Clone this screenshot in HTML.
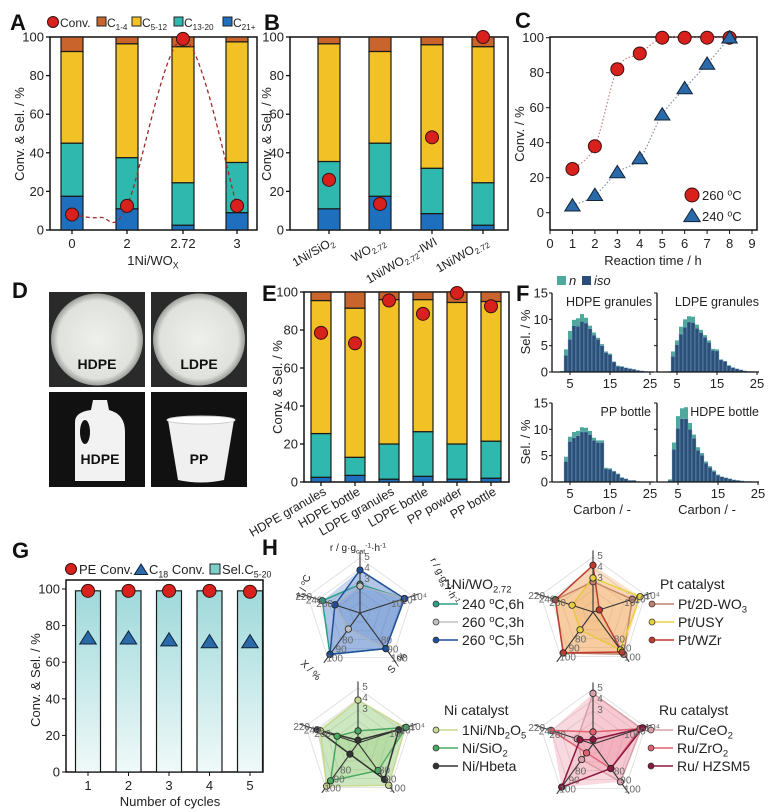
<!DOCTYPE html>
<html><head><meta charset="utf-8"><style>
html,body{margin:0;padding:0;background:#fff;}
svg{display:block;font-family:"Liberation Sans",Arial,sans-serif;}
</style></head><body>
<svg id="fig" width="778" height="812" viewBox="0 0 778 812" xmlns="http://www.w3.org/2000/svg">
<defs>
<linearGradient id="gG" x1="0" y1="0" x2="0" y2="1"><stop offset="0" stop-color="#9fd9da"/><stop offset="1" stop-color="#f0f9f9"/></linearGradient>
<radialGradient id="gran" cx="0.5" cy="0.5" r="0.5"><stop offset="0" stop-color="#eef0ec"/><stop offset="0.85" stop-color="#dfe2dc"/><stop offset="1" stop-color="#9a9c98"/></radialGradient>
</defs>
<g id="root"></g>
</svg>
<script>
// ---------- DATA ----------
const aCats = ["0","2","2.72","3"];
const aC21 = [17.5,11,2.5,9];
const aC13 = [27.5,26.5,22,26];
const aC5 = [47.5,59,70.5,62.5];
const aC1 = [7.5,3.5,5,2.5];
const aConv = [8,12.5,99,12.5];

const bCats = ["1Ni/SiO2","WO2.72","1Ni/WO2.72-IWI","1Ni/WO2.72"];
const bC21 = [11,17.5,8.5,2.5];
const bC13 = [24.5,27.5,23.5,22];
const bC5 = [61,47.5,64,70.5];
const bC1 = [3.5,7.5,4,5];
const bConv = [26,13.5,48,100];

const cTime = [1,2,3,4,5,6,7,8];
const c260 = [25,38,82,91,100,100,100,100];
const c240 = [4,10,23,31,56,71,85,100];
const cXTicks = [0,1,2,3,4,5,6,7,8,9];
const cYTicks = [0,20,40,60,80,100];

const eCats = ["HDPE granules","HDPE bottle","LDPE granules","LDPE bottle","PP powder","PP bottle"];
const eC21 = [2.5,3.5,1.5,3,1.5,2];
const eC13 = [23,9.5,18.5,23.5,18.5,19.5];
const eC5 = [70,78.5,76,69.5,74.5,73.5];
const eC1 = [4.5,8.5,4,4,5.5,5];
const eConv = [78.5,73,95.5,88.5,99.5,92.5];

const fCarbon = [3,4,5,6,7,8,9,10,11,12,13,14,15,16,17,18,19,20,21,22,23,24,25];
const fHdpeGranN = [0.2,4.3,7.8,9.9,10.2,11,10.3,8.8,7.5,6.5,5.3,3.9,3.5,2,1.2,1.1,0.8,0.7,0.5,0.3,0.2,0.1,0];
const fHdpeGranIso = [0.1,3.2,6.2,8.8,8.7,9.6,9.3,8.2,7,6.2,5,3.7,3.3,1.9,1.1,1,0.8,0.6,0.5,0.3,0.2,0.1,0];
const fLdpeGranN = [0.1,3.9,6,8.6,10,10.6,10.5,9,8,7,6,4.4,4.3,2.4,2.1,1.3,0.9,0.6,0.4,0.2,0.1,0.1,0];
const fLdpeGranIso = [0.1,3,5.2,7.2,8.5,9.5,9.4,8.3,7.5,6.6,5.6,4.1,4,2.3,2,1.2,0.8,0.6,0.4,0.2,0.1,0.1,0];
const fPpBottleN = [0.1,4.8,8.6,9.5,9.7,10.4,10.3,9.7,8.4,7.9,7.9,2.7,2.6,2.1,1.6,0.9,0.6,0.3,0.3,0.1,0,0,0];
const fPpBottleIso = [0.1,3.9,7.7,8.4,8.8,9.5,9.5,9,7.9,7.5,7.5,2.5,2.4,2,1.5,0.8,0.6,0.3,0.3,0.1,0,0,0];
const fHdpeBotN = [0.5,7.5,12.5,14,14.2,11.2,9,6.6,5.5,3.9,3,2.2,1.4,1,0.8,0.6,0.4,0.3,0.2,0.1,0.1,0,0];
const fHdpeBotIso = [0.3,6.2,10.2,12,12,10,8.3,6,5.1,3.6,2.8,2,1.3,1,0.8,0.6,0.4,0.3,0.2,0.1,0.1,0,0];

const gCycles = ["1","2","3","4","5"];
const gSel = [99,99,99,99,99];
const gPE = [99,99,99,99,98.5];
const gC18 = [73,73,72,71,71];

const hTL1 = [0.52,0.85,0.8,0.93,0.72];
const hTL2 = [0.49,0.85,0.8,0.36,0.48];
const hTL3 = [0.78,0.85,0.8,0.93,0.48];
const hPt1 = [0.55,0.75,0.95,0.92,0.72];
const hPt2 = [0.62,0.9,0.85,0.4,0.4];
const hPt3 = [0.85,0.12,0.9,0.92,0.72];
const hNi1 = [0.78,0.9,0.95,0.97,0.72];
const hNi2 = [0.22,0.92,0.62,0.85,0.4];
const hNi3 = [0.05,0.78,0.82,0.25,0.78];
const hRu1 = [0.92,0.92,0.85,0.35,0.3];
const hRu2 = [0.22,0.9,0.55,0.2,0.8];
const hRu3 = [0.08,0.95,0.55,0.97,0.25];

// ---------- HELPERS ----------
const NS="http://www.w3.org/2000/svg";
const root=document.getElementById('root');
function mk(tag,at,parent){const e=document.createElementNS(NS,tag);for(const k in at)e.setAttribute(k,at[k]);(parent||root).appendChild(e);return e;}
function txt(x,y,s,size,opts,parent){opts=opts||{};const t=mk('text',{x:x,y:y,'font-size':size,fill:opts.fill||'#222','text-anchor':opts.anchor||'start','font-weight':opts.bold?'bold':'normal'},parent);
  if(opts.rot!==undefined)t.setAttribute('transform','rotate('+opts.rot+' '+x+' '+y+')');
  if(opts.italic)t.setAttribute('font-style','italic');
  const parts=s.split(/(_\{[^}]*\}|\^\{[^}]*\})/);
  parts.forEach(p=>{if(!p)return;const sp=document.createElementNS(NS,'tspan');
    if(p.startsWith('_{')){sp.textContent=p.slice(2,-1);sp.setAttribute('font-size',size*0.68);sp.setAttribute('dy',size*0.25);t.appendChild(sp);const r=document.createElementNS(NS,'tspan');r.setAttribute('dy',-size*0.25);r.textContent='\u200b';t.appendChild(r);}
    else if(p.startsWith('^{')){sp.textContent=p.slice(2,-1);sp.setAttribute('font-size',size*0.68);sp.setAttribute('dy',-size*0.35);t.appendChild(sp);const r=document.createElementNS(NS,'tspan');r.setAttribute('dy',size*0.35);r.textContent='\u200b';t.appendChild(r);}
    else{sp.textContent=p;t.appendChild(sp);}});
  return t;}
function circ(x,y,r,fill,parent){return mk('circle',{cx:x,cy:y,r:r,fill:fill,stroke:'#3a1010','stroke-width':1},parent);}
function tri(x,y,s,fill,parent){return mk('polygon',{points:(x)+','+(y-s)+' '+(x-s*1.1)+','+(y+s*0.75)+' '+(x+s*1.1)+','+(y+s*0.75),fill:fill,stroke:'#10243a','stroke-width':1},parent);}
function smooth(pts){let d='M'+pts[0][0]+','+pts[0][1];for(let i=0;i<pts.length-1;i++){const p0=pts[i-1]||pts[i],p1=pts[i],p2=pts[i+1],p3=pts[i+2]||p2;
  d+=' C'+(p1[0]+(p2[0]-p0[0])/6)+','+(p1[1]+(p2[1]-p0[1])/6)+' '+(p2[0]-(p3[0]-p1[0])/6)+','+(p2[1]-(p3[1]-p1[1])/6)+' '+p2[0]+','+p2[1];}return d;}
const COL={c1:'#c8642c',c5:'#f2c125',c13:'#2fb8ae',c21:'#1f6fbf',red:'#d8211c',blue:'#2a6aa8'};
function label(s,x,y){const t=txt(x,y,s,22,{bold:true,fill:'#111'});}

function stackPanel(name,x0,x1,y0,y100,centers,cats,c21,c13,c5,c1,conv,bw){
  const g=mk('g',{});
  const ys=v=>y0-(y0-y100)*v/100;
  mk('rect',{x:x0,y:y100,width:x1-x0,height:y0-y100,fill:'none',stroke:'#111','stroke-width':1.5},g);
  [0,20,40,60,80,100].forEach(v=>{mk('line',{x1:x0-4,x2:x0,y1:ys(v),y2:ys(v),stroke:'#111','stroke-width':1.3},g);const t=txt(x0-6,ys(v)+4.5,String(v),13,{anchor:'end'},g);});
  cats.forEach((c,i)=>{const cx=centers(i);let acc=0;
    [[c21,COL.c21],[c13,COL.c13],[c5,COL.c5],[c1,COL.c1]].forEach(([arr,col])=>{const r=mk('rect',{x:cx-bw/2,y:ys(acc+arr[i]),width:bw,height:ys(acc)-ys(acc+arr[i]),fill:col,stroke:'#1a1a1a','stroke-width':1.2},g);acc+=arr[i];});
    mk('line',{x1:cx,x2:cx,y1:y0,y2:y0+4,stroke:'#111','stroke-width':1.3},g);
  });
  return {g:g,ys:ys};
}

// ---------- PANEL A ----------
label('A',10,30);
(function(){
  const x0=50,x1=257,y0=230,y100=37;const cen=[72,127,183,237];
  const p=stackPanel('panel-a-chart',x0,x1,y0,y100,i=>cen[i],aCats,aC21,aC13,aC5,aC1,aConv,22);
  aCats.forEach((c,i)=>{const t=txt(cen[i],248,c,13,{anchor:'middle'},p.g);});
  const xt=txt(153,265,'1Ni/WO_{X}',13,{anchor:'middle'},p.g);
  const yt=txt(24,134,'Conv. & Sel. / %',13,{anchor:'middle',rot:-90},p.g);
  const pts=aConv.map((v,i)=>[cen[i],p.ys(v)]);
  const cp=[pts[0],[100,p.ys(6.5)],pts[1],pts[2],pts[3]];
  const path=mk('path',{d:smooth(cp),fill:'none',stroke:'#a02a2a','stroke-width':1.3,'stroke-dasharray':'4,3'},p.g);
  
  pts.forEach(q=>{const c=circ(q[0],q[1],6.5,COL.red,p.g);});
  const lg=mk('g',{});
  circ(53,22,5.5,COL.red,lg);txt(60,27,'Conv.',12,{},lg);
  const items=[[COL.c1,97,'C_{1-4}'],[COL.c5,132,'C_{5-12}'],[COL.c13,174,'C_{13-20}'],[COL.c21,223,'C_{21+}']];
  items.forEach(it=>{mk('rect',{x:it[1],y:17,width:9,height:9,fill:it[0],stroke:'#222'},lg);txt(it[1]+10,27,it[2],12,{},lg);});
})();

// ---------- PANEL B ----------
label('B',264,30);
(function(){
  const x0=290,x1=508,y0=230,y100=37;const cen=[329,380,432,483];
  const p=stackPanel('panel-b-chart',x0,x1,y0,y100,i=>cen[i],bCats,bC21,bC13,bC5,bC1,bConv,22);
  const labs=['1Ni/SiO_{2}','WO_{2.72}','1Ni/WO_{2.72}-IWI','1Ni/WO_{2.72}'];
  labs.forEach((c,i)=>{const t=txt(cen[i]+6,244,c,12,{anchor:'end',rot:-30},p.g);});
  const yt=txt(271,134,'Conv. & Sel. / %',13,{anchor:'middle',rot:-90},p.g);
  bConv.forEach((v,i)=>{const c=circ(cen[i],p.ys(v),6.5,COL.red,p.g);});
})();

// ---------- PANEL C ----------
label('C',515,28);
(function(){
  const g=mk('g',{});
  const x0=550,x1=757,yb=230,ytop=37;
  const xs=v=>x0+(v-0)*(752-550)/9, ys=v=>212.7-(212.7-37.7)*v/100;
  mk('rect',{x:x0,y:ytop,width:x1-x0,height:yb-ytop,fill:'none',stroke:'#111','stroke-width':1.5},g);
  cYTicks.forEach(v=>{mk('line',{x1:x0-4,x2:x0,y1:ys(v),y2:ys(v),stroke:'#111'},g);const t=txt(x0-6,ys(v)+4.5,String(v),13,{anchor:'end'},g);});
  cXTicks.forEach(v=>{mk('line',{x1:xs(v),x2:xs(v),y1:yb,y2:yb+4,stroke:'#111'},g);const t=txt(xs(v),248,String(v),13,{anchor:'middle'},g);});
  const xt=txt(653,265,'Reaction time / h',13,{anchor:'middle'},g);
  const yt=txt(524,134,'Conv. / %',13,{anchor:'middle',rot:-90},g);
  const l1=mk('path',{d:smooth(cTime.map((t,i)=>[xs(t),ys(c260[i])])),fill:'none',stroke:'#d08080','stroke-width':1.2,'stroke-dasharray':'1.5,2'},g);
  const l2=mk('path',{d:smooth(cTime.map((t,i)=>[xs(t),ys(c240[i])])),fill:'none',stroke:'#8090a8','stroke-width':1.2,'stroke-dasharray':'1.5,2'},g);
  cTime.forEach((t,i)=>{const c=circ(xs(t),ys(c260[i]),6.5,COL.red,g);});
  cTime.forEach((t,i)=>{const c=tri(xs(t),ys(c240[i]),7,COL.blue,g);});
  const lg=mk('g',{},g);
  circ(692,195,7,COL.red,lg);txt(702,200,'260 ^{o}C',13,{},lg);
  tri(692,216,7.5,COL.blue,lg);txt(702,221,'240 ^{o}C',13,{},lg);
})();

// ---------- PANEL D ----------
label('D',12,298);
(function(){
  const g=mk('g',{});
  const boxes=[[49,292,'HDPE',0],[151,292,'LDPE',0],[49,392,'HDPE',1],[151,392,'PP',2]];
  boxes.forEach(b=>{const [x,y,s,k]=b;const w=96,h=95;
    mk('rect',{x:x,y:y,width:w,height:h,fill:k===0?'#2a2a2a':'#111'},g);
    if(k===0){mk('circle',{cx:x+w/2,cy:y+h/2,r:46,fill:'url(#gran)'},g);}
    if(k===1){mk('path',{d:'M'+(x+26)+','+(y+h-6)+' L'+(x+26)+','+(y+30)+' Q'+(x+26)+','+(y+20)+' '+(x+42)+','+(y+18)+' L'+(x+44)+','+(y+8)+' L'+(x+58)+','+(y+8)+' L'+(x+60)+','+(y+18)+' Q'+(x+76)+','+(y+22)+' '+(x+76)+','+(y+40)+' L'+(x+76)+','+(y+h-6)+' Z',fill:'#f2f2f2'},g);
      mk('ellipse',{cx:x+36,cy:y+40,rx:5,ry:12,fill:'#111'},g);}
    if(k===2){mk('path',{d:'M'+(x+17)+','+(y+28)+' L'+(x+83)+','+(y+28)+' L'+(x+73)+','+(y+88)+' Q'+(x+50)+','+(y+93)+' '+(x+27)+','+(y+88)+' Z',fill:'#f0f0f0'},g);
      mk('ellipse',{cx:x+50,cy:y+28,rx:34,ry:4,fill:'#fff',stroke:'#ccc'},g);}
    const t=txt(x+w/2+(k===1?3:0),y+(k===0?77:72),s,14,{anchor:'middle',bold:true,fill:'#111'},g);
  });
})();

// ---------- PANEL E ----------
label('E',262,301);
(function(){
  const x0=304,x1=509,y0=482,y100=292;const cen=i=>321+34*i;
  const p=stackPanel('panel-e-chart',x0,x1,y0,y100,cen,eCats,eC21,eC13,eC5,eC1,eConv,20);
  eCats.forEach((c,i)=>{const t=txt(cen(i)+6,494,c,12.5,{anchor:'end',rot:-30},p.g);});
  const yt=txt(282,387,'Conv. & Sel. / %',13,{anchor:'middle',rot:-90},p.g);
  eConv.forEach((v,i)=>{const c=circ(cen(i),p.ys(v),6.5,COL.red,p.g);});
})();

// ---------- PANEL F ----------
label('F',516,301);
(function(){
  const panels=[
    {n:fHdpeGranN,iso:fHdpeGranIso,ax:552,off:0,y0:372,t:'HDPE granules',left:true,tx:566,anc:'start'},
    {n:fLdpeGranN,iso:fLdpeGranIso,ax:657,off:107,y0:372,t:'LDPE granules',left:false,tx:759,anc:'end'},
    {n:fPpBottleN,iso:fPpBottleIso,ax:552,off:0,y0:482,t:'PP bottle',left:true,tx:651,anc:'end'},
    {n:fHdpeBotN,iso:fHdpeBotIso,ax:657,off:108,y0:482,t:'HDPE bottle',left:false,tx:759,anc:'end'}];
  panels.forEach((P,pi)=>{
    const g=mk('g',{});
    const xs=c=>570+P.off+(c-5)*4, ys=v=>P.y0-v*(79/15);
    fCarbon.forEach((c,i)=>{
      const r1=mk('rect',{x:xs(c)-2,y:ys(P.n[i]),width:4,height:P.y0-ys(P.n[i]),fill:'#4fa89c'},g);
      const r2=mk('rect',{x:xs(c)-2,y:ys(P.iso[i]),width:4,height:P.y0-ys(P.iso[i]),fill:'#2b4f78',stroke:'#8db4d0','stroke-width':0.4},g);
    });
    mk('line',{x1:P.ax,x2:P.ax+102,y1:P.y0,y2:P.y0,stroke:'#111','stroke-width':1.3},g);
    mk('line',{x1:P.ax,x2:P.ax,y1:P.y0,y2:P.y0-79,stroke:'#111','stroke-width':1.3},g);
    [0,5,10,15].forEach(v=>{mk('line',{x1:P.ax-3,x2:P.ax,y1:ys(v),y2:ys(v),stroke:'#111'},g);
      if(P.left){const t=txt(P.ax-4,ys(v)+4.5,String(v),13,{anchor:'end'},g);}});
    [5,15,25].forEach(v=>{mk('line',{x1:xs(v),x2:xs(v),y1:P.y0,y2:P.y0+3,stroke:'#111'},g);const t=txt(xs(v),P.y0+16,String(v),13,{anchor:'middle'},g);});
    const tt=txt(P.tx,P.y0-66,P.t,12.5,{anchor:P.anc},g);
    
    if(P.left){const yt=txt(530,P.y0-40,'Sel. / %',13,{anchor:'middle',rot:-90},g);}
    if(pi>=2){const xt=txt(P.ax+50,P.y0+32,'Carbon / -',13,{anchor:'middle'},g);}
  });
  const lg=mk('g',{});
  mk('rect',{x:557,y:276,width:9,height:9,fill:'#4fa89c'},lg);txt(569,285,'n',13,{italic:true},lg);
  mk('rect',{x:582,y:276,width:9,height:9,fill:'#2b4f78'},lg);txt(594,285,'iso',13,{italic:true},lg);
})();

// ---------- PANEL G ----------
label('G',12,558);
(function(){
  const g=mk('g',{});
  const x0=66,x1=263,y0=772,y100=589;const ys=v=>y0-(y0-y100)*v/100;const cen=i=>88+40.5*i;
  mk('rect',{x:x0,y:580,width:x1-x0,height:y0-580,fill:'none',stroke:'#111','stroke-width':1.5},g);
  [0,20,40,60,80,100].forEach(v=>{mk('line',{x1:x0-4,x2:x0,y1:ys(v),y2:ys(v),stroke:'#111'},g);const t=txt(x0-6,ys(v)+4.5,String(v),13,{anchor:'end'},g);});
  gCycles.forEach((c,i)=>{const r=mk('rect',{x:cen(i)-12.5,y:ys(gSel[i]),width:25,height:y0-ys(gSel[i]),fill:'url(#gG)',stroke:'#1a1a1a','stroke-width':1.2},g);
    mk('line',{x1:cen(i),x2:cen(i),y1:y0,y2:y0+4,stroke:'#111'},g);
    const t=txt(cen(i),790,c,13,{anchor:'middle'},g);});
  gCycles.forEach((c,i)=>{const a=circ(cen(i),ys(gPE[i]),6.5,COL.red,g);
    const b=tri(cen(i),ys(gC18[i]),7.5,COL.blue,g);});
  const xt=txt(170,806,'Number of cycles',13,{anchor:'middle'},g);
  const yt=txt(40,680,'Conv. & Sel. / %',13,{anchor:'middle',rot:-90},g);
  const lg=mk('g',{},g);
  circ(71,569,5.5,COL.red,lg);txt(79,574,'PE Conv.',13,{},lg);
  tri(141,570,6,COL.blue,lg);txt(149,574,'C_{18} Conv.',13,{},lg);
  mk('rect',{x:210,y:564,width:10,height:10,fill:'#7fcfc8',stroke:'#222'},lg);txt(222,574,'Sel.C_{5-20}',13,{},lg);
})();

// ---------- PANEL H ----------
label('H',262,555);
function radar(name,cx,cy,R,series,colors,fill){
  const g=mk('g',{});
  const ang=k=>(-90+72*k)*Math.PI/180;
  const pt=(k,v)=>[cx+R*v*Math.cos(ang(k)),cy+R*v*Math.sin(ang(k))];
  [0.2,0.4,0.6,0.8,1].forEach(s=>{mk('polygon',{points:[0,1,2,3,4].map(k=>pt(k,s).join(',')).join(' '),fill:'none',stroke:'#dcdcdc','stroke-width':0.8},g);});
  const env=[0,1,2,3,4].map(k=>Math.max(...series.map(s=>s[k])));
  mk('polygon',{points:env.map((v,k)=>pt(k,v).join(',')).join(' '),fill:fill,'fill-opacity':0.3,stroke:'none'},g);
  series.forEach((s,si)=>{const poly=mk('polygon',{points:s.map((v,k)=>pt(k,v).join(',')).join(' '),fill:fill,'fill-opacity':0.18,stroke:colors[si],'stroke-width':1.5},g);});
  [0,1,2,3,4].forEach(k=>{const a=pt(k,0),b=pt(k,1.12);mk('line',{x1:a[0],y1:a[1],x2:b[0],y2:b[1],stroke:'#333','stroke-width':1.1},g);});
  series.forEach((s,si)=>{s.forEach((v,k)=>{const p=pt(k,v);const c=mk('circle',{cx:p[0],cy:p[1],r:3.2,fill:colors[si],stroke:'#222','stroke-width':0.8},g);});});
  const tl=[['5','4','3'],['10⁴','10³','10²'],['100','90','80'],['100','90','80'],['220','240','260']];
  const pos=[1,0.8,0.6];
  tl.forEach((arr,k)=>arr.forEach((s,j)=>{const p=pt(k,pos[j]);const t=txt(p[0]+(k===4?-4:7),p[1]+(k===0?2:4),s,10,{fill:'#666',anchor:'middle'},g);}));
  return g;
}
function radarLegend(name,x,y,title,labels,colors){
  const g=mk('g',{});
  txt(x,y,title,14,{},g);
  labels.forEach((l,i)=>{const yy=y+19+18*i;mk('line',{x1:x-6,x2:x+14,y1:yy-4,y2:yy-4,stroke:colors[i],'stroke-width':1.5},g);mk('circle',{cx:x-8,cy:yy-4,r:3,fill:colors[i],stroke:'#333','stroke-width':0.7},g);
    const t=txt(x+18,yy+1,l,14,{},g);});
}
const tlCol=['#2f9e86','#c0c0c0','#1f4f9a'];
radar('radar-1ni-wo272',360,613,55,[hTL1,hTL2,hTL3],tlCol,'#4a7cc8');
radarLegend('legend-1ni-wo272',444,589,'1Ni/WO_{2.72}',['240 ^{o}C,6h','260 ^{o}C,3h','260 ^{o}C,5h'],tlCol);
const ptCol=['#c08070','#e8d040','#c03a30'];
radar('radar-pt-catalyst',593,612,55,[hPt1,hPt2,hPt3],ptCol,'#f0a050');
radarLegend('legend-pt-catalyst',660,589,'Pt catalyst',['Pt/2D-WO_{3}','Pt/USY','Pt/WZr'],ptCol);
const niCol=['#c8d890','#4aa860','#333'];
radar('radar-ni-catalyst',358,743,55,[hNi1,hNi2,hNi3],niCol,'#8cc870');
radarLegend('legend-ni-catalyst',444,715,'Ni catalyst',['1Ni/Nb_{2}O_{5}','Ni/SiO_{2}','Ni/Hbeta'],niCol);
const ruCol=['#d8a0a8','#e06070','#8a1840'];
radar('radar-ru-catalyst',593,744,55,[hRu1,hRu2,hRu3],ruCol,'#ec8098');
radarLegend('legend-ru-catalyst',659,715,'Ru catalyst',['Ru/CeO_{2}','Ru/ZrO_{2}','Ru/ HZSM5'],ruCol);
(function(){const g=mk('g',{});
  txt(358,551,'r / g·g_{cat}^{-1}·h^{-1}',10,{anchor:'middle'},g);
  txt(430,560,'r / g·g_{s}^{-1}·h^{-1}',10,{rot:62},g);
  txt(392,674,'S / %',10,{rot:-50},g);
  txt(300,664,'X / %',10,{rot:45},g);
  txt(303,600,'T / ^{o}C',10,{rot:-72},g);
})();
</script>
</body></html>
